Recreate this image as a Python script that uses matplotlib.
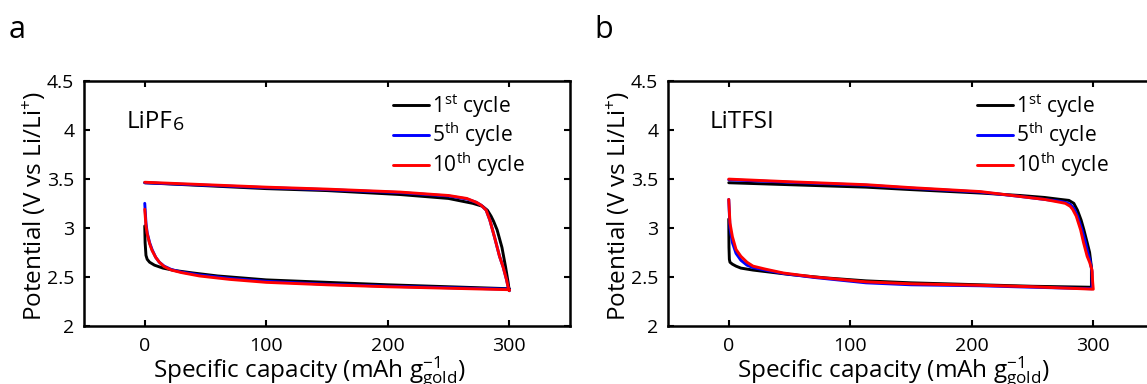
import matplotlib
matplotlib.use("Agg")
import matplotlib.pyplot as plt

FONT = "Open Sans"
plt.rcParams['font.family'] = [FONT, 'DejaVu Sans']
plt.rcParams['mathtext.fontset'] = 'custom'
plt.rcParams['mathtext.rm'] = FONT
plt.rcParams['mathtext.it'] = FONT
plt.rcParams['mathtext.bf'] = FONT

# ---------------- data ----------------
cycle_labels = [r"1$^{\mathrm{st}}$ cycle", r"5$^{\mathrm{th}}$ cycle", r"10$^{\mathrm{th}}$ cycle"]
cycle_colors = ["black", "#0000ff", "#ff0000"]

# Panel a (LiPF6): discharge (lower branch, 0 -> 300) and charge (upper branch, 300 -> 0)
a1_dis_cap = [0, 0.3, 1, 2, 4, 8, 15, 25, 40, 60, 100, 150, 200, 250, 300]
a1_dis_V   = [3.02, 2.85, 2.72, 2.68, 2.65, 2.62, 2.59, 2.565, 2.54, 2.51, 2.47, 2.445, 2.42, 2.40, 2.38]
a1_chg_cap = [300, 299, 297, 294, 290, 287, 285, 282, 278, 270, 250, 210, 150, 100, 50, 0]
a1_chg_V   = [2.36, 2.45, 2.60, 2.80, 2.98, 3.07, 3.12, 3.18, 3.22, 3.25, 3.30, 3.34, 3.38, 3.40, 3.43, 3.46]

a5_dis_cap = [0, 1, 2, 4, 6, 9, 12, 16, 22, 30, 45, 70, 100, 150, 200, 250, 300]
a5_dis_V   = [3.25, 3.05, 2.95, 2.85, 2.78, 2.70, 2.65, 2.61, 2.575, 2.55, 2.52, 2.485, 2.455, 2.425, 2.405, 2.39, 2.375]
a5_chg_cap = [300, 299, 297.8, 295, 292, 288, 284, 281, 277, 273, 265, 250, 210, 150, 100, 50, 0]
a5_chg_V   = [2.36, 2.40, 2.47, 2.60, 2.71, 2.90, 3.08, 3.18, 3.23, 3.26, 3.295, 3.325, 3.36, 3.39, 3.41, 3.435, 3.46]

a10_dis_cap = [0, 1, 2, 4, 6, 9, 12, 16, 22, 30, 45, 70, 100, 150, 200, 250, 300]
a10_dis_V   = [3.19, 3.02, 2.94, 2.84, 2.77, 2.70, 2.65, 2.605, 2.57, 2.545, 2.51, 2.475, 2.445, 2.42, 2.40, 2.385, 2.37]
a10_chg_cap = [300, 299, 297.8, 295, 292, 288, 284, 281, 277, 273, 265, 250, 210, 150, 100, 50, 0]
a10_chg_V   = [2.36, 2.40, 2.47, 2.60, 2.71, 2.90, 3.08, 3.18, 3.23, 3.26, 3.30, 3.33, 3.365, 3.395, 3.415, 3.44, 3.465]

# Panel b (LiTFSI)
b1_dis_cap = [0, 0.2, 0.5, 1, 3, 6, 10, 20, 30, 50, 80, 113, 150, 207, 250, 298.5]
b1_dis_V   = [3.09, 2.80, 2.68, 2.65, 2.63, 2.61, 2.59, 2.57, 2.555, 2.525, 2.49, 2.46, 2.44, 2.42, 2.405, 2.395]
b1_chg_cap = [298.5, 298.5, 297, 295, 292.3, 290, 287, 284, 280, 273, 260, 240, 207, 150, 113, 50, 0]
b1_chg_V   = [2.395, 2.60, 2.75, 2.85, 2.98, 3.08, 3.18, 3.25, 3.28, 3.29, 3.31, 3.33, 3.355, 3.39, 3.415, 3.44, 3.46]

b5_dis_cap = [0, 1, 3, 6, 10, 15, 20, 30, 45, 70, 113, 150, 207, 250, 299]
b5_dis_V   = [3.29, 3.00, 2.85, 2.74, 2.67, 2.62, 2.595, 2.57, 2.535, 2.495, 2.44, 2.42, 2.41, 2.395, 2.38]
b5_chg_cap = [299, 299, 297.5, 295.5, 293, 290.5, 287, 284, 281, 277, 273, 260, 240, 207, 150, 113, 50, 0]
b5_chg_V   = [2.38, 2.55, 2.66, 2.75, 2.88, 2.99, 3.12, 3.20, 3.24, 3.26, 3.27, 3.29, 3.32, 3.365, 3.405, 3.435, 3.465, 3.49]

b10_dis_cap = [0, 1, 3, 6, 10, 15, 20, 30, 45, 70, 113, 150, 207, 250, 300]
b10_dis_V   = [3.29, 3.05, 2.91, 2.78, 2.71, 2.65, 2.61, 2.58, 2.54, 2.50, 2.45, 2.43, 2.415, 2.40, 2.375]
b10_chg_cap = [300, 299.5, 299, 297, 295, 292, 289.6, 286, 283, 281, 277, 273, 260, 240, 207, 150, 113, 50, 0]
b10_chg_V   = [2.375, 2.45, 2.57, 2.65, 2.71, 2.85, 2.98, 3.12, 3.19, 3.22, 3.25, 3.26, 3.29, 3.32, 3.37, 3.41, 3.44, 3.47, 3.497]

panel_a = [(a1_dis_cap, a1_dis_V, a1_chg_cap, a1_chg_V),
           (a5_dis_cap, a5_dis_V, a5_chg_cap, a5_chg_V),
           (a10_dis_cap, a10_dis_V, a10_chg_cap, a10_chg_V)]
panel_b = [(b1_dis_cap, b1_dis_V, b1_chg_cap, b1_chg_V),
           (b5_dis_cap, b5_dis_V, b5_chg_cap, b5_chg_V),
           (b10_dis_cap, b10_dis_V, b10_chg_cap, b10_chg_V)]

xticks = [0, 100, 200, 300]
yticks = [2, 2.5, 3, 3.5, 4, 4.5]
ytick_labels = ["2", "2.5", "3", "3.5", "4", "4.5"]

# ---------------- figure ----------------
W, H = 1147, 384
fig = plt.figure(figsize=(W / 100, H / 100), dpi=100)

def px_axes(left, top, right, bottom):
    return fig.add_axes([left / W, 1 - bottom / H, (right - left) / W, (bottom - top) / H])

ax_a = px_axes(84, 80.7, 570, 326)
ax_b = px_axes(668, 80.7, 1154, 326)

def draw(ax, data, letter, letter_x):
    for (dc, dv, cc, cv), col, lab in zip(data, cycle_colors, cycle_labels):
        ax.plot(list(dc) + list(cc), list(dv) + list(cv), color=col, lw=2.1,
                label=lab, solid_joinstyle='round', solid_capstyle='round')
    ax.set_xlim(-50, 350)
    ax.set_ylim(2, 4.5)
    ax.set_xticks(xticks)
    ax.set_yticks(yticks)
    ax.set_yticklabels(ytick_labels)
    ax.tick_params(direction='in', length=4, width=1.5, top=True, right=True,
                   labelsize=14, color='black')
    ax.tick_params(axis='x', pad=8)
    ax.tick_params(axis='y', pad=7)
    for s in ax.spines.values():
        s.set_linewidth(1.8)
    ax.set_xlabel(r"Specific capacity (mAh g$^{-1}_{\mathrm{gold}}$)", fontsize=17.5)
    ax.set_ylabel(r"Potential (V vs Li/Li$^{+}$)", fontsize=17.5)
    ax.xaxis.set_label_coords(0.463, -0.115)
    ax.yaxis.set_label_coords(-0.075, 0.49)
    ax.legend(loc='upper left', bbox_to_anchor=(0.636, 0.955), frameon=False,
              fontsize=15, handlelength=1.7, handletextpad=0.15, labelspacing=0.05,
              borderpad=0, borderaxespad=0)
    fig.text(letter_x / W, 1 - 38 / H, letter, fontsize=22, ha='left', va='baseline')
    return ax

draw(ax_a, panel_a, "a", 9)
draw(ax_b, panel_b, "b", 594)

t = ax_a.text(0.088, 0.806, "LiPF", transform=ax_a.transAxes, fontsize=17.5,
              ha='left', va='baseline')
ax_a.annotate("6", xy=(1, 0), xycoords=t, fontsize=14, ha='left', va='bottom')
ax_b.text(0.086, 0.806, "LiTFSI", transform=ax_b.transAxes, fontsize=17.5,
          ha='left', va='baseline')

fig.savefig("out.png", dpi=100)
